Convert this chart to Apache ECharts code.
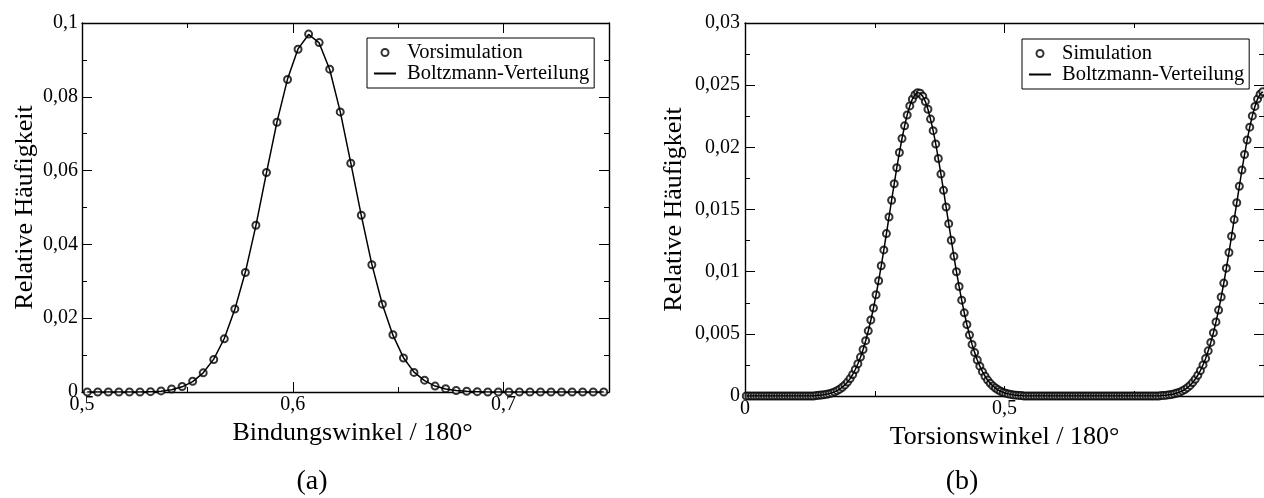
<!DOCTYPE html>
<html>
<head>
<meta charset="utf-8">
<script src="https://cdn.jsdelivr.net/npm/echarts@6/dist/echarts.min.js"></script>
<style>
html,body{margin:0;padding:0;background:#fff;}
#chart{width:1264px;height:498px;}
</style>
</head>
<body>
<div id="chart"></div>
<script>
// ---- Data (a): bond angle distribution ----
const bondAngle = [
  0.5025,0.5075,0.5125,0.5175,0.5225,0.5275,0.5325,0.5375,0.5425,0.5475,
  0.5525,0.5575,0.5625,0.5675,0.5725,0.5775,0.5825,0.5875,0.5925,0.5975,
  0.6025,0.6075,0.6125,0.6175,0.6225,0.6275,0.6325,0.6375,0.6425,0.6475,
  0.6525,0.6575,0.6625,0.6675,0.6725,0.6775,0.6825,0.6875,0.6925,0.6975,
  0.7025,0.7075,0.7125,0.7175,0.7225,0.7275,0.7325,0.7375,0.7425,0.7475
];
const bondSim = [
  0,0,0,0,0,0,0.0001,0.0003,0.0008,0.0015,
  0.0029,0.0052,0.0088,0.0144,0.0225,0.0324,0.0452,0.0595,0.0731,0.0847,
  0.0929,0.0970,0.0947,0.0875,0.0759,0.0620,0.0479,0.0345,0.0238,0.0155,
  0.0092,0.0053,0.0032,0.0016,0.0009,0.0004,0.0002,0.0001,0,0,
  0,0,0,0,0,0,0,0,0,0
];
const bondBoltzmann = [
  0,0,0,0,0,0,0.0001,0.0002,0.0006,0.0014,
  0.0028,0.0052,0.0089,0.0145,0.0224,0.0325,0.0451,0.0594,0.0732,0.0848,
  0.0930,0.0969,0.0946,0.0874,0.0760,0.0621,0.0478,0.0346,0.0237,0.0154,
  0.0093,0.0054,0.0031,0.0016,0.0008,0.0004,0.0002,0.0001,0,0,
  0,0,0,0,0,0,0,0,0,0
];

// ---- Data (b): torsion angle distribution ----
const torsionAngle = [
  0.0025,0.0075,0.0125,0.0175,0.0225,0.0275,0.0325,0.0375,0.0425,0.0475,
  0.0525,0.0575,0.0625,0.0675,0.0725,0.0775,0.0825,0.0875,0.0925,0.0975,
  0.1025,0.1075,0.1125,0.1175,0.1225,0.1275,0.1325,0.1375,0.1425,0.1475,
  0.1525,0.1575,0.1625,0.1675,0.1725,0.1775,0.1825,0.1875,0.1925,0.1975,
  0.2025,0.2075,0.2125,0.2175,0.2225,0.2275,0.2325,0.2375,0.2425,0.2475,
  0.2525,0.2575,0.2625,0.2675,0.2725,0.2775,0.2825,0.2875,0.2925,0.2975,
  0.3025,0.3075,0.3125,0.3175,0.3225,0.3275,0.3325,0.3375,0.3425,0.3475,
  0.3525,0.3575,0.3625,0.3675,0.3725,0.3775,0.3825,0.3875,0.3925,0.3975,
  0.4025,0.4075,0.4125,0.4175,0.4225,0.4275,0.4325,0.4375,0.4425,0.4475,
  0.4525,0.4575,0.4625,0.4675,0.4725,0.4775,0.4825,0.4875,0.4925,0.4975,
  0.5025,0.5075,0.5125,0.5175,0.5225,0.5275,0.5325,0.5375,0.5425,0.5475,
  0.5525,0.5575,0.5625,0.5675,0.5725,0.5775,0.5825,0.5875,0.5925,0.5975,
  0.6025,0.6075,0.6125,0.6175,0.6225,0.6275,0.6325,0.6375,0.6425,0.6475,
  0.6525,0.6575,0.6625,0.6675,0.6725,0.6775,0.6825,0.6875,0.6925,0.6975,
  0.7025,0.7075,0.7125,0.7175,0.7225,0.7275,0.7325,0.7375,0.7425,0.7475,
  0.7525,0.7575,0.7625,0.7675,0.7725,0.7775,0.7825,0.7875,0.7925,0.7975,
  0.8025,0.8075,0.8125,0.8175,0.8225,0.8275,0.8325,0.8375,0.8425,0.8475,
  0.8525,0.8575,0.8625,0.8675,0.8725,0.8775,0.8825,0.8875,0.8925,0.8975,
  0.9025,0.9075,0.9125,0.9175,0.9225,0.9275,0.9325,0.9375,0.9425,0.9475,
  0.9525,0.9575,0.9625,0.9675,0.9725,0.9775,0.9825,0.9875,0.9925,0.9975
];
const torsionSim = [
  0,0,0,0,0,0,0,0,0,0,
  0,0,0,0,0,0,0,0,0,0,
  0,0,0,0,0,0,0,0.00004,0.00006,0.00008,
  0.00011,0.00014,0.00019,0.00025,0.00033,0.00043,0.00055,0.00070,0.00089,0.00112,
  0.00140,0.00173,0.00213,0.00259,0.00313,0.00374,0.00445,0.00524,0.00611,0.00708,
  0.00814,0.00927,0.01048,0.01175,0.01306,0.01440,0.01574,0.01707,0.01836,0.01958,
  0.02071,0.02173,0.02260,0.02333,0.02387,0.02423,0.02439,0.02435,0.02411,0.02368,
  0.02306,0.02227,0.02134,0.02027,0.01910,0.01785,0.01654,0.01520,0.01386,0.01253,
  0.01123,0.00999,0.00881,0.00771,0.00669,0.00575,0.00491,0.00415,0.00349,0.00290,
  0.00240,0.00196,0.00159,0.00128,0.00102,0.00081,0.00064,0.00050,0.00038,0.00029,
  0.00022,0.00017,0.00013,0.00009,0.00007,0.00005,0.00004,0,0,0,
  0,0,0,0,0,0,0,0,0,0,
  0,0,0,0,0,0,0,0,0,0,
  0,0,0,0,0,0,0,0,0,0,
  0,0,0,0,0,0,0,0,0,0,
  0,0,0,0,0,0,0,0,0,0,
  0.00004,0.00005,0.00007,0.00010,0.00013,0.00018,0.00024,0.00031,0.00041,0.00052,
  0.00067,0.00085,0.00108,0.00135,0.00167,0.00205,0.00250,0.00302,0.00363,0.00431,
  0.00509,0.00596,0.00691,0.00796,0.00908,0.01028,0.01154,0.01285,0.01419,0.01554,
  0.01687,0.01818,0.01942,0.02058,0.02162,0.02253,0.02329,0.02388,0.02427,0.02447
];
const torsionBoltzmann = [
  0,0,0,0,0,0,0,0,0,0,
  0,0,0,0,0,0,0,0,0,0,
  0,0,0,0,0,0,0,0.00004,0.00006,0.00008,
  0.00011,0.00015,0.00019,0.00025,0.00033,0.00043,0.00055,0.00071,0.00089,0.00112,
  0.00140,0.00173,0.00213,0.00259,0.00312,0.00374,0.00444,0.00523,0.00611,0.00707,
  0.00813,0.00927,0.01047,0.01175,0.01306,0.01440,0.01575,0.01707,0.01836,0.01958,
  0.02071,0.02173,0.02261,0.02333,0.02388,0.02424,0.02440,0.02435,0.02411,0.02368,
  0.02306,0.02227,0.02134,0.02027,0.01910,0.01785,0.01654,0.01520,0.01386,0.01253,
  0.01123,0.00999,0.00881,0.00771,0.00669,0.00575,0.00491,0.00415,0.00349,0.00290,
  0.00240,0.00196,0.00159,0.00128,0.00102,0.00081,0.00064,0.00050,0.00038,0.00029,
  0.00022,0.00017,0.00013,0.00009,0.00007,0.00005,0.00004,0,0,0,
  0,0,0,0,0,0,0,0,0,0,
  0,0,0,0,0,0,0,0,0,0,
  0,0,0,0,0,0,0,0,0,0,
  0,0,0,0,0,0,0,0,0,0,
  0,0,0,0,0,0,0,0,0,0,
  0.00004,0.00005,0.00007,0.00010,0.00013,0.00018,0.00024,0.00031,0.00041,0.00052,
  0.00067,0.00085,0.00108,0.00135,0.00167,0.00205,0.00250,0.00302,0.00363,0.00431,
  0.00509,0.00596,0.00691,0.00796,0.00908,0.01028,0.01154,0.01285,0.01419,0.01554,
  0.01687,0.01818,0.01942,0.02058,0.02162,0.02253,0.02329,0.02388,0.02427,0.02447
];

const FONT = 'Liberation Serif';
const fmt = v => String(+Number(v).toFixed(5)).replace('.', ',');
const pair = (xs, ys) => xs.map((x, i) => [x, ys[i]]);

const lineAxis = { show: true, onZero: false, lineStyle: { color: '#000', width: 1.4 } };
const noLine = { show: false, onZero: false };
const labelStyle = (margin) => ({ show: true, fontFamily: FONT, fontSize: 20, color: '#000', margin: margin, formatter: fmt });
const tick = (len) => ({ show: true, inside: true, length: len, lineStyle: { color: '#000', width: 1 } });
const minor = { show: true, length: 5, splitNumber: 2, lineStyle: { color: '#000', width: 1 } };
const nameStyle = { fontFamily: FONT, fontSize: 26, color: '#000', lineHeight: 26 };
const legendText = { fontFamily: FONT, fontSize: 20.5, color: '#000', lineHeight: 19, padding: [0, 0, 0, 6] };
const hiddenDot = { opacity: 0 };

const chart = echarts.init(document.getElementById('chart'), null, { renderer: 'canvas' });

const option = {
  animation: false,
  backgroundColor: '#fff',
  textStyle: { fontFamily: FONT, color: '#000' },
  grid: [
    { left: 82, top: 23, right: 655, bottom: 106 },
    { left: 745, top: 23, right: -3, bottom: 102 }
  ],
  xAxis: [
    { gridIndex: 0, type: 'value', position: 'bottom', min: 0.5, max: 0.75, interval: 0.1,
      axisLine: lineAxis, axisTick: tick(10), axisLabel: Object.assign(labelStyle(3), { showMaxLabel: false }),
      splitLine: { show: false },
      name: 'Bindungswinkel / 180°', nameLocation: 'middle', nameGap: 24,
      nameTextStyle: Object.assign({ padding: [0, 0, 0, 14] }, nameStyle) },
    { gridIndex: 0, type: 'value', position: 'bottom', min: 0.5, max: 0.75, interval: 0.05,
      axisLine: noLine, axisTick: tick(5), axisLabel: { show: false }, splitLine: { show: false } },
    { gridIndex: 0, type: 'value', position: 'top', min: 0.5, max: 0.75, interval: 0.1,
      axisLine: lineAxis, axisTick: tick(10), axisLabel: { show: false }, splitLine: { show: false } },
    { gridIndex: 0, type: 'value', position: 'top', min: 0.5, max: 0.75, interval: 0.05,
      axisLine: noLine, axisTick: tick(5), axisLabel: { show: false }, splitLine: { show: false } },
    { gridIndex: 1, type: 'value', position: 'bottom', min: 0, max: 1, interval: 0.5,
      axisLine: lineAxis, axisTick: tick(10), minorTick: minor,
      axisLabel: Object.assign(labelStyle(3), { showMaxLabel: false }),
      splitLine: { show: false }, minorSplitLine: { show: false },
      name: 'Torsionswinkel / 180°', nameLocation: 'middle', nameGap: 24, nameTextStyle: nameStyle },
    { gridIndex: 1, type: 'value', position: 'top', min: 0, max: 1, interval: 0.5,
      axisLine: lineAxis, axisTick: tick(10), minorTick: minor, axisLabel: { show: false },
      splitLine: { show: false }, minorSplitLine: { show: false } }
  ],
  yAxis: [
    { gridIndex: 0, type: 'value', position: 'left', min: 0, max: 0.1, interval: 0.02,
      axisLine: lineAxis, axisTick: tick(10), minorTick: minor, axisLabel: labelStyle(4),
      splitLine: { show: false }, minorSplitLine: { show: false },
      name: 'Relative Häufigkeit', nameLocation: 'middle', nameGap: 44, nameTextStyle: nameStyle },
    { gridIndex: 0, type: 'value', position: 'right', min: 0, max: 0.1, interval: 0.02,
      axisLine: lineAxis, axisTick: tick(10), minorTick: minor, axisLabel: { show: false },
      splitLine: { show: false }, minorSplitLine: { show: false } },
    { gridIndex: 1, type: 'value', position: 'left', min: 0, max: 0.03, interval: 0.005,
      axisLine: lineAxis, axisTick: tick(10), minorTick: minor, axisLabel: labelStyle(5),
      splitLine: { show: false }, minorSplitLine: { show: false },
      name: 'Relative Häufigkeit', nameLocation: 'middle', nameGap: 58, nameTextStyle: nameStyle },
    { gridIndex: 1, type: 'value', position: 'right', min: 0, max: 0.03, interval: 0.005,
      axisLine: lineAxis, axisTick: tick(10), minorTick: minor, axisLabel: { show: false },
      splitLine: { show: false }, minorSplitLine: { show: false } }
  ],
  legend: [
    { orient: 'vertical', left: 367, top: 38, itemGap: 0, itemWidth: 22, itemHeight: 7,
      padding: [4, 5, 4, 6], borderColor: '#000', borderWidth: 1, selectedMode: false,
      data: ['Vorsimulation', { name: 'Boltzmann-Verteilung', itemStyle: hiddenDot }],
      textStyle: legendText },
    { orient: 'vertical', left: 1022, top: 39, itemGap: 0, itemWidth: 22, itemHeight: 7,
      padding: [4, 5, 4, 6], borderColor: '#000', borderWidth: 1, selectedMode: false,
      data: ['Simulation', { name: 'Boltzmann-Verteilung', itemStyle: hiddenDot }],
      textStyle: legendText }
  ],
  graphic: [
    { type: 'text', x: 312, y: 482, style: { text: '(a)', fontFamily: FONT, fontSize: 28, fill: '#000', align: 'center', verticalAlign: 'middle' } },
    { type: 'text', x: 962, y: 482, style: { text: '(b)', fontFamily: FONT, fontSize: 28, fill: '#000', align: 'center', verticalAlign: 'middle' } }
  ],
  series: [
    { name: 'Vorsimulation', type: 'scatter', xAxisIndex: 0, yAxisIndex: 0,
      symbol: 'emptyCircle', symbolSize: 7, symbolKeepAspect: true,
      itemStyle: { color: '#000', borderColor: '#000', borderWidth: 1 },
      data: pair(bondAngle, bondSim) },
    { name: 'Boltzmann-Verteilung', type: 'line', xAxisIndex: 0, yAxisIndex: 0,
      symbol: 'none', lineStyle: { color: '#000', width: 1.5 }, itemStyle: { color: '#000' },
      data: pair(bondAngle, bondBoltzmann) },
    { name: 'Simulation', type: 'scatter', xAxisIndex: 4, yAxisIndex: 2,
      symbol: 'emptyCircle', symbolSize: 7, symbolKeepAspect: true,
      itemStyle: { color: '#000', borderColor: '#000', borderWidth: 1 },
      data: pair(torsionAngle, torsionSim) },
    { name: 'Boltzmann-Verteilung', type: 'line', xAxisIndex: 4, yAxisIndex: 2,
      symbol: 'none', lineStyle: { color: '#000', width: 1.5 }, itemStyle: { color: '#000' },
      data: pair(torsionAngle, torsionBoltzmann) }
  ]
};
chart.setOption(option);
</script>
</body>
</html>
